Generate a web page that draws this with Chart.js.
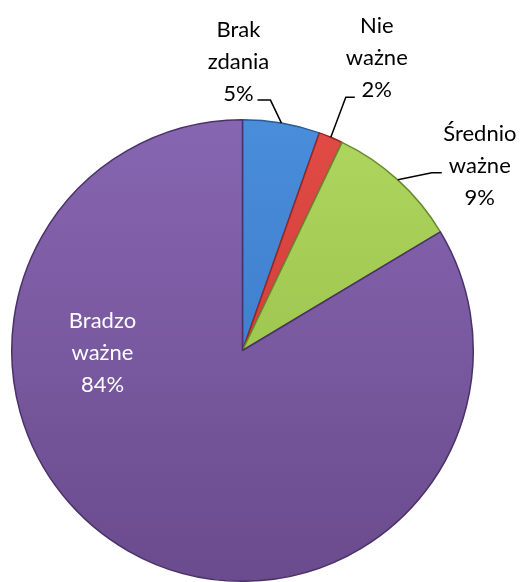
<!DOCTYPE html>
<html>
<head>
<meta charset="utf-8">
<script src="https://cdn.jsdelivr.net/npm/chart.js@4/dist/chart.umd.min.js"></script>
<style>
  html, body { margin: 0; padding: 0; background: #fff; }
  #wrap { width: 524px; height: 582px; position: relative; }
</style>
</head>
<body>
<div id="wrap"><canvas id="pieChart"></canvas></div>
<script>
// --- DATA ---
const categories = ['Brak zdania', 'Nie ważne', 'Średnio ważne', 'Bradzo ważne'];
const labelLines = [['Brak', 'zdania'], ['Nie', 'ważne'], ['Średnio', 'ważne'], ['Bradzo', 'ważne']];
const shares = [5.4, 1.7, 9.3, 83.6]; // percent

// --- STYLE ---
const SLICE_COLORS = [
    { top: '#4a8ddb', bottom: '#3472c2', edge: '#2a5a98' },
    { top: '#e04b46', bottom: '#c93531', edge: '#952622' },
    { top: '#afd65e', bottom: '#8fb944', edge: '#678a2e' },
    { top: '#8766b1', bottom: '#6a4b8d', edge: '#4a3268' },
];

// offsets from the slice's outer edge point (text centre, elbow, horizontal tail)
const labelPlacement = [
    { text: [-43, -61], elbow: [-11, -23], tail: -13 },
    { text: [46, -79], elbow: [15, -40], tail: 9 },
    { text: [82, -14], elbow: [34, -7], tail: 10 },
    { inside: true, text: [-140, 2] },
];

function sliceFill(context) {
    const chart = context.chart;
    const c = SLICE_COLORS[context.dataIndex];
    const area = chart.chartArea;
    if (!area) return c.top;
    const g = chart.ctx.createLinearGradient(0, area.top, 0, area.bottom);
    g.addColorStop(0, c.top);
    g.addColorStop(1, c.bottom);
    return g;
}

// --- LABEL PLUGIN ---
const pieLabels = {
    id: 'pieLabels',
    afterDatasetsDraw(chart) {
        const ctx = chart.ctx;
        const arcs = chart.getDatasetMeta(0).data;
        ctx.save();
        ctx.font = '22px Lato, "Open Sans", sans-serif';
        ctx.textAlign = 'center';
        ctx.textBaseline = 'middle';
        arcs.forEach((arc, i) => {
            const p = arc.getProps(['x', 'y', 'startAngle', 'endAngle', 'outerRadius'], true);
            const place = labelPlacement[i];
            const lines = labelLines[i].concat([Math.round(shares[i]) + '%']);
            let cx, cy;
            if (place.inside) {
                cx = p.x + place.text[0];
                cy = p.y + place.text[1];
                ctx.fillStyle = '#ffffff';
            } else {
                const mid = (p.startAngle + p.endAngle) / 2;
                const ex = p.x + Math.cos(mid) * p.outerRadius;
                const ey = p.y + Math.sin(mid) * p.outerRadius;
                const bx = ex + place.elbow[0];
                const by = ey + place.elbow[1];
                ctx.strokeStyle = '#000';
                ctx.lineWidth = 1.5;
                ctx.beginPath();
                ctx.moveTo(ex, ey);
                ctx.lineTo(bx, by);
                ctx.lineTo(bx + place.tail, by);
                ctx.stroke();
                cx = ex + place.text[0];
                cy = ey + place.text[1];
                ctx.fillStyle = '#000000';
            }
            lines.forEach((t, k) => {
                ctx.fillText(t, cx, cy + (k - 1) * 32);
            });
        });
        ctx.restore();
    }
};

// --- CHART ---
function renderPie() {
    const ctx = document.getElementById('pieChart').getContext('2d');
    new Chart(ctx, {
        type: 'pie',
        data: {
            labels: categories,
            datasets: [{
                data: shares,
                backgroundColor: sliceFill,
                borderColor: SLICE_COLORS.map(c => c.edge),
                borderWidth: 1.5
            }]
        },
        options: {
            responsive: true,
            maintainAspectRatio: false,
            animation: false,
            layout: { padding: { top: 119, bottom: 0, left: 10, right: 49 } },
            plugins: {
                legend: { display: false },
                tooltip: { enabled: false }
            }
        },
        plugins: [pieLabels]
    });
}

renderPie();
</script>
</body>
</html>
